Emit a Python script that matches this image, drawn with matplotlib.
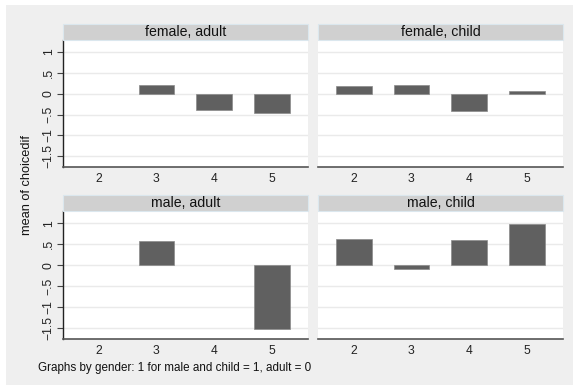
import matplotlib
matplotlib.use("Agg")
import matplotlib.pyplot as plt
from matplotlib.patches import Rectangle

plt.rcParams['font.family'] = ['Liberation Sans', 'DejaVu Sans']

# Mean of choicedif by choice level, per gender/age group
panel_titles = ["female, adult", "female, child", "male, adult", "male, child"]
x_levels = [2, 3, 4, 5]
panel_x = [
    [3, 4, 5],
    [2, 3, 4, 5],
    [3, 5],
    [2, 3, 4, 5],
]
panel_means = [
    [0.20, -0.38, -0.46],
    [0.18, 0.20, -0.42, 0.07],
    [0.57, -1.51],
    [0.62, -0.09, 0.60, 0.99],
]
y_ticks = [1, 0.5, 0, -0.5, -1, -1.5]
y_ticklabels = ["1", ".5", "0", "\u2212.5", "\u22121", "\u22121.5"]
y_title = "mean of choicedif"
note = "Graphs by gender: 1 for male and child = 1, adult = 0"

W, H = 573, 385
fig = plt.figure(figsize=(W / 100, H / 100), dpi=100, facecolor="white")

bg = "#efefef"
fig.patches.append(Rectangle((6 / W, 0), 1, 1 - 5 / H, transform=fig.transFigure,
                             facecolor=bg, edgecolor="none", zorder=-10))

bar_color = "#606060"
grid_color = "#eaeaea"
strip_color = "#d0d0d0"
strip_edge = "#dbe7ee"
axis_color = "#555555"

col_x = [(63, 308), (318, 563)]
row_y = [(40, 167), (211, 339)]
strip_h = 16

for i, title in enumerate(panel_titles):
    r, c = divmod(i, 2)
    x0, x1 = col_x[c]
    y0, y1 = row_y[r]
    ax = fig.add_axes([x0 / W, 1 - y1 / H, (x1 - x0) / W, (y1 - y0) / H])
    ax.set_facecolor("white")
    ax.bar(panel_x[i], panel_means[i], width=0.62, color=bar_color,
           edgecolor="#8a8a8a", linewidth=0.5, zorder=3)
    ax.set_xlim(1.38, 5.63)
    ax.set_ylim(-1.76, 1.29)
    ax.set_yticks(y_ticks)
    for yt in y_ticks:
        ax.axhline(yt, color=grid_color, linewidth=1.0, zorder=1)
    ax.set_xticks(x_levels)
    ax.set_xticklabels([str(v) for v in x_levels])
    ax.tick_params(axis="x", length=0, pad=4, labelsize=8.7, colors="#222222")
    for s in ["top", "right"]:
        ax.spines[s].set_visible(False)
    ax.spines["bottom"].set_color(axis_color)
    ax.spines["bottom"].set_linewidth(1.2)
    if c == 0:
        ax.set_yticklabels(y_ticklabels, rotation=90, va="center")
        ax.tick_params(axis="y", length=4, width=0.8, color="#444444",
                       pad=2, labelsize=8.7, colors="#222222")
        ax.spines["left"].set_color("#222222")
        ax.spines["left"].set_linewidth(1.0)
    else:
        ax.tick_params(axis="y", length=0, labelleft=False)
        ax.spines["left"].set_visible(False)

    # panel header strip
    fig.patches.append(Rectangle((x0 / W, 1 - y0 / H), (x1 - x0) / W, strip_h / H,
                                 transform=fig.transFigure, facecolor=strip_color,
                                 edgecolor=strip_edge, linewidth=0.8))
    fig.text((x0 + x1) / 2 / W, 1 - (y0 - strip_h / 2) / H, title,
             ha="center", va="center", fontsize=10.2, color="#111111")

fig.text(27 / W, 1 - 185 / H, y_title, rotation=90, ha="center", va="center",
         fontsize=9.2, color="#111111")
fig.text(38.5 / W, 1 - 368 / H, note, ha="left", va="center", fontsize=8.4,
         color="#111111")

fig.savefig("out.png", dpi=100, facecolor=fig.get_facecolor())
